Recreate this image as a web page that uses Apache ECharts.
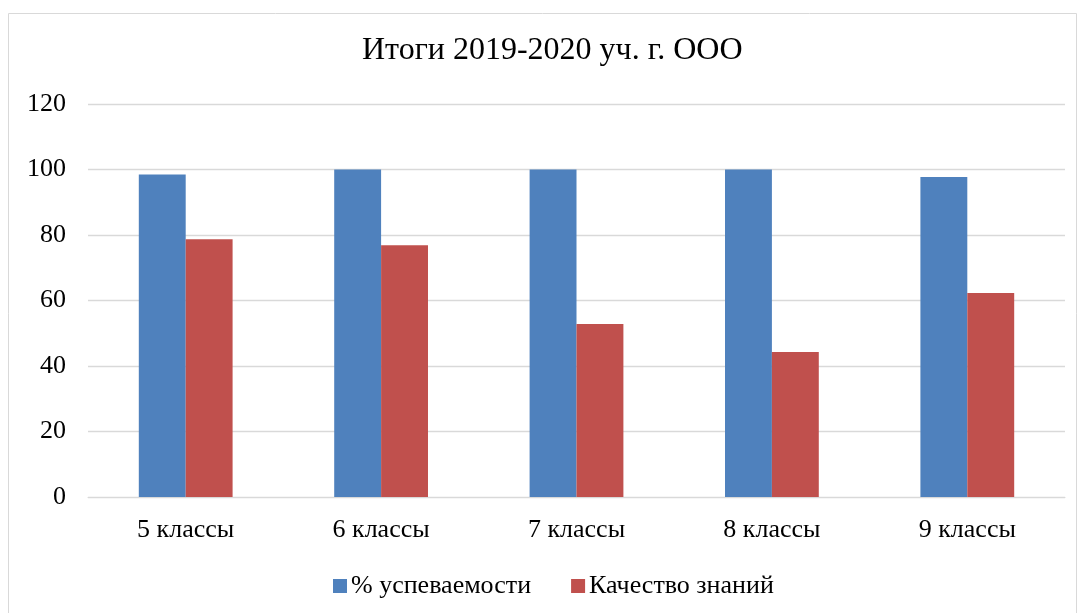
<!DOCTYPE html>
<html><head><meta charset="utf-8">
<script src="https://cdn.jsdelivr.net/npm/echarts@6/dist/echarts.min.js"></script>
<style>html,body{margin:0;padding:0;background:#fff}#c{width:1083px;height:613px}</style>
</head><body><div id="c"></div>
<script>
const categories = ['5 классы','6 классы','7 классы','8 классы','9 классы'];
const uspev = [98.5, 100, 100, 100, 97.7];
const kachestvo = [78.7, 76.9, 52.8, 44.3, 62.3];
const seriesNames = ['% успеваемости','Качество знаний'];
const title = 'Итоги 2019-2020 уч. г. ООО';
const font = '"Liberation Serif","Times New Roman",serif';
const chart = echarts.init(document.getElementById('c'), null, {renderer:'canvas'});
chart.setOption({
  animation:false,
  textStyle:{fontFamily:font},
  graphic:[{type:'rect',shape:{x:8.5,y:13.5,width:1068,height:640},style:{fill:null,stroke:'#D9D9D9',lineWidth:1},silent:true}],
  title:{text:title,left:362,top:35,padding:0,textStyle:{fontFamily:font,fontSize:32,fontWeight:'normal',color:'#000'}},
  grid:{left:88,right:18,top:104,bottom:116,containLabel:false},
  legend:{bottom:14,left:333,padding:0,itemWidth:14,itemHeight:14,itemGap:40,icon:'rect',
    textStyle:{fontFamily:font,fontSize:26,color:'#000',padding:[0,0,0,-1]},data:seriesNames},
  xAxis:{type:'category',data:categories,axisTick:{show:false},
    axisLine:{lineStyle:{color:'#D9D9D9'}},
    axisLabel:{fontFamily:font,fontSize:26,color:'#000',margin:20}},
  yAxis:{type:'value',min:0,max:120,interval:20,
    axisLabel:{fontFamily:font,fontSize:26,color:'#000',margin:22},
    axisLine:{show:false},axisTick:{show:false},
    splitLine:{lineStyle:{color:'#D9D9D9',width:1.3}}},
  series:[
    {name:seriesNames[0],type:'bar',data:uspev,barGap:'0%',barCategoryGap:'52%',itemStyle:{color:'#4F81BD'}},
    {name:seriesNames[1],type:'bar',data:kachestvo,itemStyle:{color:'#C0504D'}}
  ]
});
</script></body></html>
